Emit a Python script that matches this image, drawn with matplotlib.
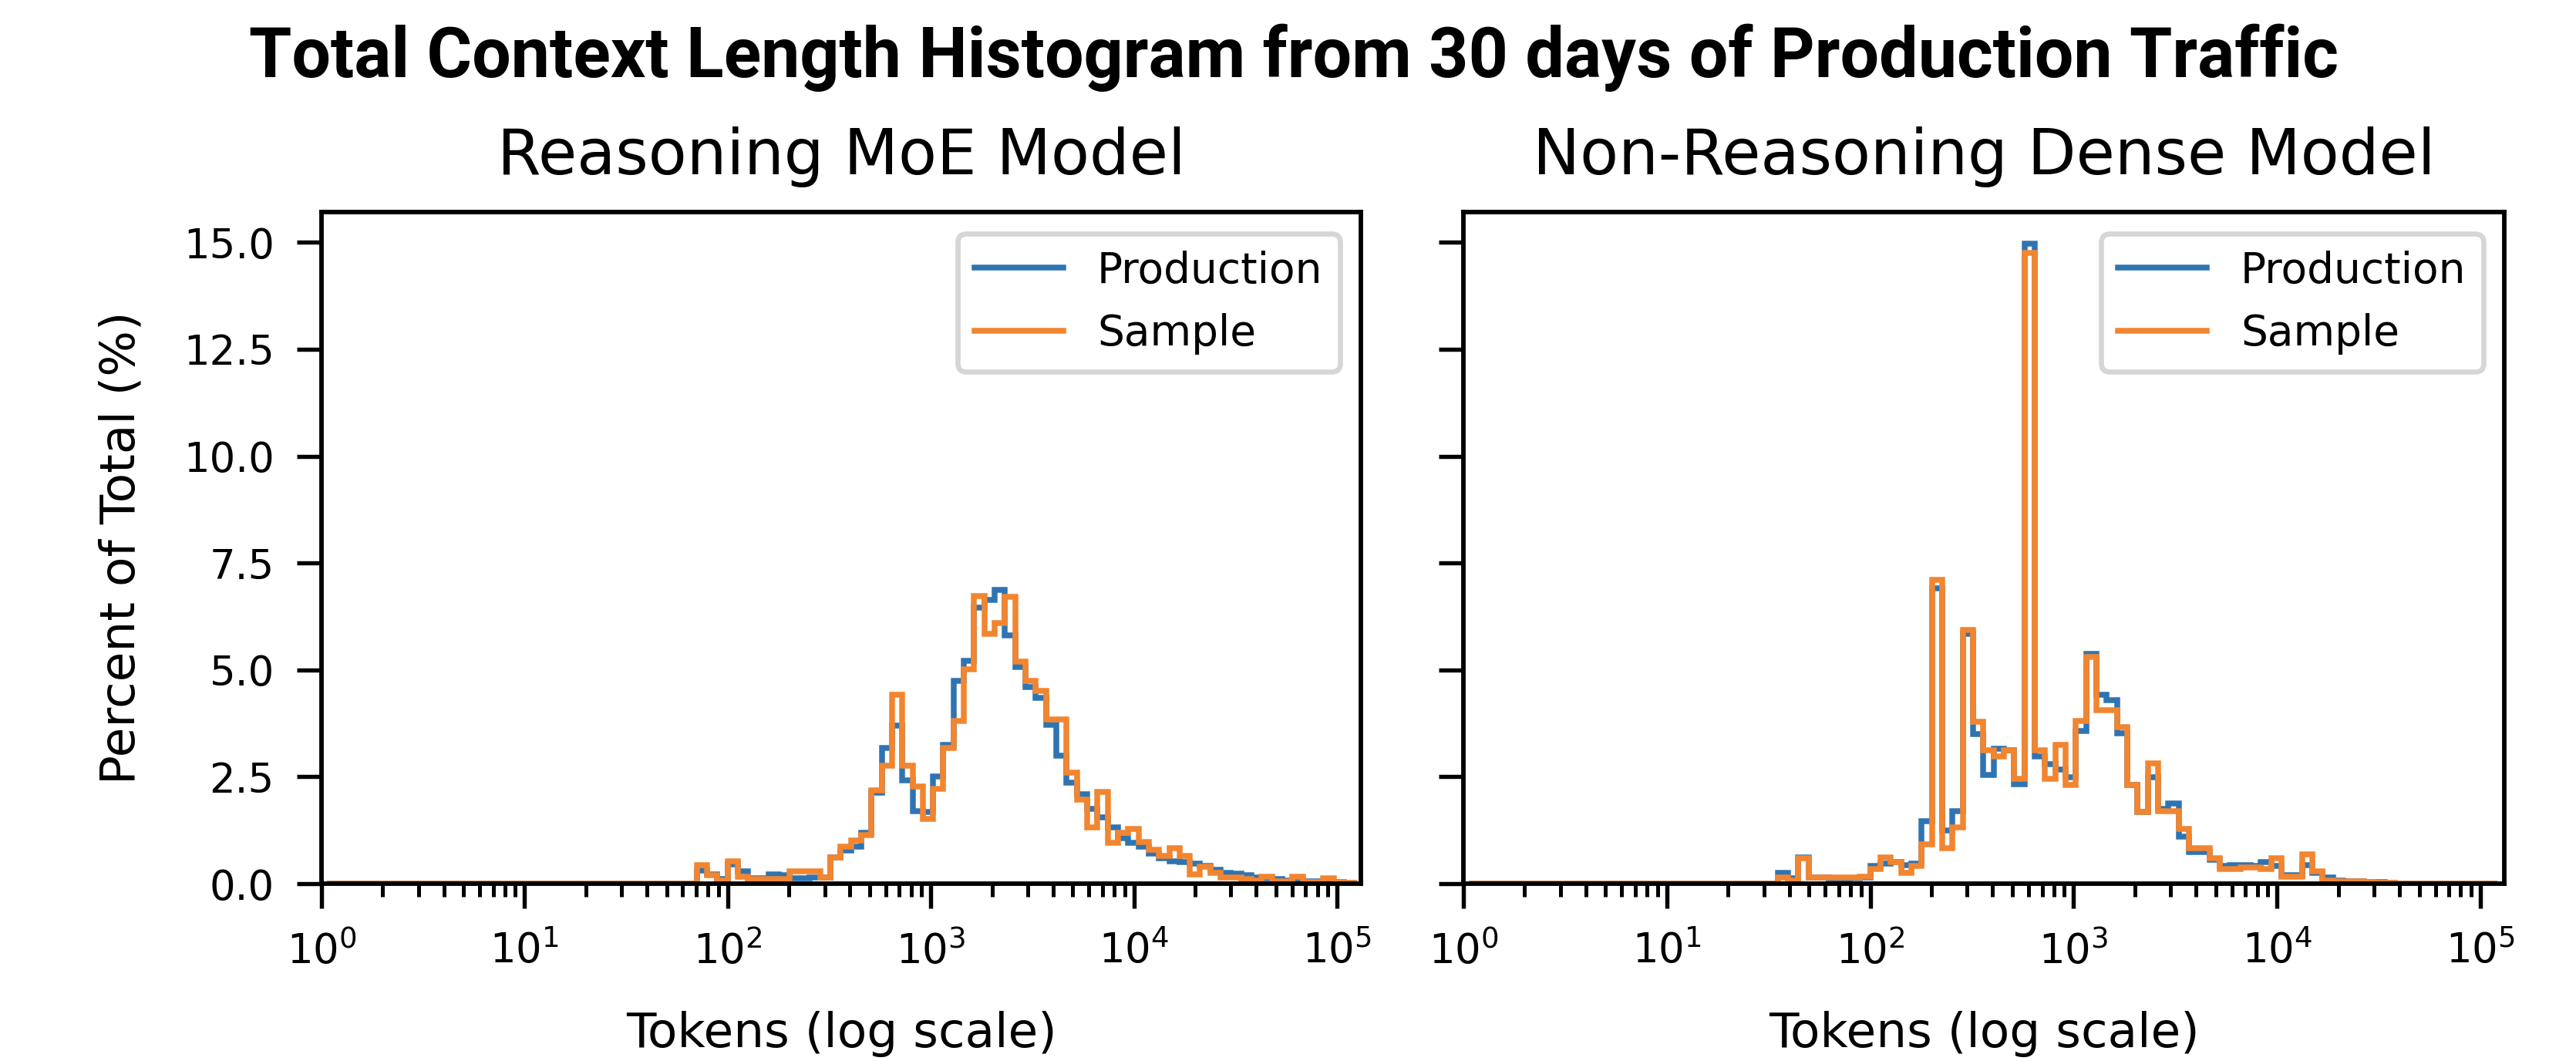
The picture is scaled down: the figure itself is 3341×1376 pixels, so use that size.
import numpy as np
import matplotlib
matplotlib.use("Agg")
import matplotlib.pyplot as plt

# ---------------- data (percent of total per log-spaced token bin) ----------------
BIN_LOG_START = 0.028     # log10 of first bin edge
BIN_LOG_WIDTH = 0.05056   # decades per bin
N_BINS = 100

moe_first_bin = 36
moe_production = [0.30, 0.22, 0.10, 0.45, 0.28, 0.12, 0.12, 0.22, 0.20, 0.12,
                  0.12, 0.15, 0.14, 0.62, 0.77, 0.86, 1.19, 2.12, 3.18, 3.69,
                  2.42, 1.70, 1.67, 2.51, 3.24, 4.74, 5.22, 6.45, 6.64, 6.88,
                  5.81, 5.07, 4.59, 4.35, 3.72, 3.00, 2.36, 2.09, 1.75, 1.55,
                  1.31, 1.07, 0.95, 0.86, 0.71, 0.59, 0.53, 0.50, 0.47, 0.42,
                  0.33, 0.26, 0.23, 0.19, 0.15, 0.12, 0.10, 0.08, 0.07, 0.06,
                  0.05, 0.04, 0.03, 0.02]
moe_sample = [0.44, 0.20, 0.08, 0.53, 0.17, 0.10, 0.10, 0.10, 0.10, 0.29,
              0.29, 0.29, 0.15, 0.62, 0.86, 1.01, 1.13, 2.18, 2.76, 4.41,
              2.76, 2.27, 1.52, 2.21, 3.18, 3.81, 5.01, 6.73, 5.85, 6.10,
              6.70, 5.19, 4.74, 4.50, 3.84, 3.84, 2.60, 1.97, 1.31, 2.15,
              0.96, 1.19, 1.28, 0.98, 0.80, 0.65, 0.83, 0.65, 0.22, 0.40,
              0.25, 0.14, 0.14, 0.10, 0.08, 0.17, 0.06, 0.05, 0.17, 0.04,
              0.04, 0.12, 0.03, 0.02]

dense_first_bin = 30
dense_production = [0.26, 0.12, 0.62, 0.14, 0.14, 0.10, 0.10, 0.12, 0.14, 0.41,
                    0.47, 0.50, 0.44, 0.47, 1.46, 6.90, 1.25, 1.70, 5.85, 3.50,
                    2.55, 3.15, 3.12, 2.33, 14.96, 2.97, 2.79, 2.67, 2.48, 3.57,
                    5.37, 4.41, 4.29, 3.51, 2.30, 1.67, 2.48, 1.75, 1.88, 1.10,
                    0.74, 0.74, 0.56, 0.41, 0.44, 0.44, 0.41, 0.50, 0.41, 0.20,
                    0.20, 0.44, 0.26, 0.14, 0.08, 0.06, 0.05, 0.04, 0.03, 0.02]
dense_sample = [0.14, 0.08, 0.59, 0.14, 0.14, 0.14, 0.14, 0.14, 0.17, 0.35,
                0.62, 0.50, 0.26, 0.41, 0.92, 7.10, 0.83, 1.31, 5.94, 3.78,
                3.12, 2.97, 3.12, 2.45, 14.76, 3.12, 2.45, 3.24, 2.30, 3.81,
                5.31, 4.05, 4.05, 3.66, 2.30, 1.67, 2.82, 1.70, 1.70, 1.28,
                0.83, 0.83, 0.59, 0.35, 0.35, 0.38, 0.38, 0.35, 0.59, 0.17,
                0.17, 0.68, 0.29, 0.08, 0.06, 0.06, 0.06, 0.04, 0.02, 0.01]

panel_titles = ["Reasoning MoE Model", "Non-Reasoning Dense Model"]
series_labels = ["Production", "Sample"]
suptitle_text = "Total Context Length Histogram from 30 days of Production Traffic"
x_label = "Tokens (log scale)"
y_label = "Percent of Total (%)"
x_limits = (1.0, 1.31e5)
y_ticks = [0.0, 2.5, 5.0, 7.5, 10.0, 12.5, 15.0]

# ---------------- styling ----------------
BLUE = "#2f74b2"
ORANGE = "#f28530"
W, H, DPI = 3341, 1376, 300

plt.rcParams["font.family"] = ["DejaVu Sans"]
plt.rcParams["mathtext.fontset"] = "dejavusans"

edges = 10 ** (BIN_LOG_START + BIN_LOG_WIDTH * np.arange(N_BINS + 1))


def full_hist(first_bin, values):
    h = np.zeros(N_BINS)
    h[first_bin:first_bin + len(values)] = values
    return h


panels = [
    (full_hist(moe_first_bin, moe_production), full_hist(moe_first_bin, moe_sample)),
    (full_hist(dense_first_bin, dense_production), full_hist(dense_first_bin, dense_sample)),
]

fig = plt.figure(figsize=(W / DPI, H / DPI), dpi=DPI)
ax_left = fig.add_axes([417 / W, 1 - 1146 / H, 1348 / W, 871 / H])
ax_right = fig.add_axes([1898 / W, 1 - 1146 / H, 1350 / W, 871 / H], sharey=ax_left)
axes = [ax_left, ax_right]

ymax = max(max(dense_production), max(dense_sample), max(moe_production), max(moe_sample)) * 1.05

for i, (ax, (prod, samp), title) in enumerate(zip(axes, panels, panel_titles)):
    ax.stairs(prod, edges, color=BLUE, lw=1.8, label=series_labels[0])
    ax.stairs(samp, edges, color=ORANGE, lw=1.8, label=series_labels[1])
    ax.set_xscale("log")
    ax.set_xlim(*x_limits)
    ax.set_ylim(0, ymax)
    ax.set_yticks(y_ticks)
    ax.set_title(title, fontsize=19.6, pad=11.8)
    ax.set_xlabel(x_label, fontsize=15.1)
    ax.xaxis.set_label_coords(0.5, -0.189)
    for s in ax.spines.values():
        s.set_linewidth(1.4)
    ax.tick_params(which="major", length=7.7, width=1.3, labelsize=12.7, pad=7)
    ax.tick_params(which="minor", length=4.1, width=1.2)
    leg = ax.legend(loc="upper right", fontsize=13.2, handlelength=2.1)
    leg.get_frame().set_linewidth(1.6)
    for line in leg.get_lines():
        line.set_linewidth(1.8)
    if i == 1:
        ax.tick_params(labelleft=False)

ax_left.set_ylabel(y_label, fontsize=15.1)
ax_left.yaxis.set_label_coords(-0.1706, 0.5)

fig.text(0.5022, 1 - 100 / H, suptitle_text, ha="center", va="baseline",
         fontsize=21.5, fontweight="bold", family=["Roboto", "DejaVu Sans"])

fig.savefig("out.png", dpi=DPI, facecolor="white")
